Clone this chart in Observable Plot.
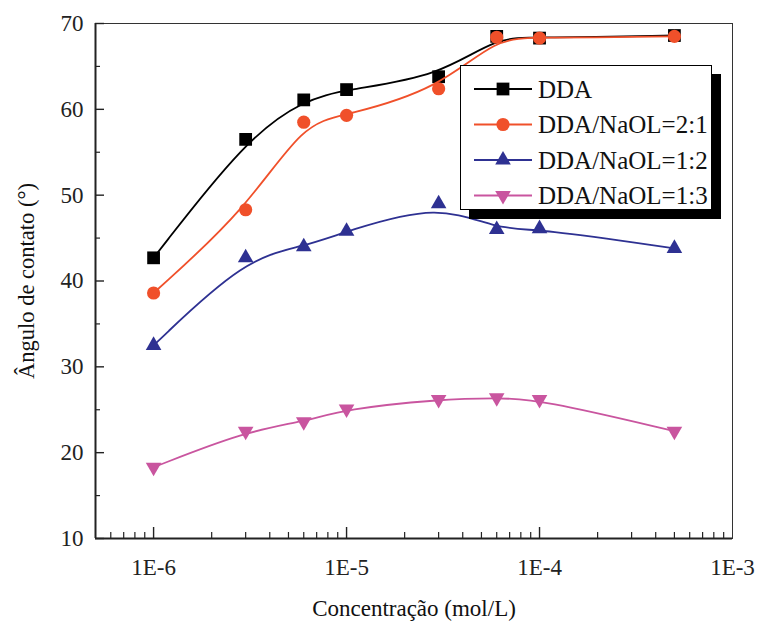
<!DOCTYPE html>
<html>
<head>
<meta charset="utf-8">
<script src="https://cdn.jsdelivr.net/npm/d3@7"></script>
<script src="https://cdn.jsdelivr.net/npm/@observablehq/plot@0.6"></script>
<style>
  body { margin: 0; background: #fff; }
  #wrap { position: relative; width: 757px; height: 628px; font-family: "Liberation Serif", "Times New Roman", serif; }
  #legend { position: absolute; left: 460px; top: 65px; width: 250px; height: 143px; background: #fff; border: 1px solid #000; box-shadow: 9px 9px 0 #000; }
</style>
</head>
<body>
<div id="wrap"></div>
<script>
// ---- data ----
const conc = [1e-6, 3e-6, 6e-6, 1e-5, 3e-5, 6e-5, 1e-4, 5e-4];
const dda   = [42.7, 56.5, 61.1, 62.3, 63.8, 68.5, 68.3, 68.6];
const dda21 = [38.6, 48.3, 58.5, 59.3, 62.4, 68.4, 68.3, 68.5];
const dda12 = [32.5, 42.7, 44.0, 45.8, 49.0, 46.0, 46.1, 43.8];
const dda13 = [18.3, 22.5, 23.6, 25.1, 26.2, 26.4, 26.2, 22.5];
const seriesNames = ["DDA", "DDA/NaOL=2:1", "DDA/NaOL=1:2", "DDA/NaOL=1:3"];
const seriesColors = ["#000000", "#f0502a", "#2e3192", "#c9559f"];
const seriesSymbols = ["square", "circle", "triangle", "triangle"];
const seriesRotate = [0, 0, 0, 180];
const seriesR = [7.2, 6.6, 5.8, 5.8];
const xMajor = [1e-6, 1e-5, 1e-4, 1e-3];
const xTickLabels = ["1E-6", "1E-5", "1E-4", "1E-3"];
const xMinor = [6e-7,7e-7,8e-7,9e-7, 2e-6,3e-6,4e-6,5e-6,6e-6,7e-6,8e-6,9e-6,
                2e-5,3e-5,4e-5,5e-5,6e-5,7e-5,8e-5,9e-5, 2e-4,3e-4,4e-4,5e-4,6e-4,7e-4,8e-4,9e-4];
const yMajor = [10, 20, 30, 40, 50, 60, 70];
const yMinor = [15, 25, 35, 45, 55, 65];
const xDomain = [5e-7, 1e-3];
const yDomain = [10, 70];
const xTitle = "Concentração (mol/L)";
const yTitle = "Ângulo de contato (°)";

const allValues = [dda, dda21, dda12, dda13];
const rows = [];
allValues.forEach((vals, s) => vals.forEach((v, i) => rows.push({series: s, x: conc[i], y: v})));

const W = 757, H = 628, mL = 95, mR = 25, mT = 23, mB = 90;
const fH = H - mT - mB, fW = W - mL - mR;
const labelMap = new Map(xMajor.map((v, i) => [v, xTickLabels[i]]));
const serif = "'Liberation Serif', 'Times New Roman', serif";

const marks = [];
// frame
marks.push(Plot.frame({stroke: "#333", strokeWidth: 1}));
// ticks (inward)
marks.push(Plot.tickX(xMajor.slice(0, 3), {x: d => d, insetTop: fH - 11, stroke: "#222", strokeWidth: 1.4}));
marks.push(Plot.tickX(xMinor, {x: d => d, insetTop: fH - 6, stroke: "#222", strokeWidth: 1.2}));
marks.push(Plot.tickY(yMajor, {y: d => d, insetRight: fW - 9, stroke: "#222", strokeWidth: 1.4}));
marks.push(Plot.tickY(yMinor, {y: d => d, insetRight: fW - 5, stroke: "#222", strokeWidth: 1.2}));
// tick labels
marks.push(Plot.axisX({ticks: xMajor, tickSize: 0, tickPadding: 20, tickFormat: d => labelMap.get(d),
  fontSize: 23, label: null}));
marks.push(Plot.axisY({ticks: yMajor, tickSize: 0, tickPadding: 12, tickFormat: d => String(d),
  fontSize: 23, label: null}));
// axis titles
marks.push(Plot.text([xTitle], {text: d => d, frameAnchor: "bottom", dy: 70, lineAnchor: "middle",
  textAnchor: "middle", fontSize: 23, fill: "#111"}));
marks.push(Plot.text([yTitle], {text: d => d, frameAnchor: "left", dx: -69, lineAnchor: "middle",
  textAnchor: "middle", rotate: -90, fontSize: 22.5, fill: "#111"}));
// series
allValues.forEach((vals, s) => {
  const data = rows.filter(r => r.series === s);
  marks.push(Plot.line(data, {x: "x", y: "y", curve: "basis", stroke: seriesColors[s], strokeWidth: 1.8}));
  marks.push(Plot.dot(data, {x: "x", y: "y", symbol: seriesSymbols[s], r: seriesR[s], rotate: seriesRotate[s],
    fill: seriesColors[s], stroke: "none"}));
});
// axis lines
marks.push(Plot.ruleX([xDomain[0]], {stroke: "#222", strokeWidth: 2}));
marks.push(Plot.ruleY([yDomain[0]], {stroke: "#222", strokeWidth: 2}));

const chart = Plot.plot({
  width: W, height: H,
  marginLeft: mL, marginRight: mR, marginTop: mT, marginBottom: mB,
  style: {fontFamily: serif, fontSize: "22px", color: "#222", background: "#fff"},
  x: {type: "log", domain: xDomain, axis: null},
  y: {domain: yDomain, axis: null},
  marks
});
const wrap = document.getElementById("wrap");
wrap.appendChild(chart);

// legend
const legend = document.createElement("div");
legend.id = "legend";
const ns = "http://www.w3.org/2000/svg";
const lsvg = document.createElementNS(ns, "svg");
lsvg.setAttribute("width", 250); lsvg.setAttribute("height", 143);
lsvg.style.position = "absolute"; lsvg.style.left = "0"; lsvg.style.top = "0";
const symMap = {square: d3.symbolSquare, circle: d3.symbolCircle, triangle: d3.symbolTriangle};
seriesNames.forEach((name, i) => {
  const cy = 23 + i * 35.5;
  const g = document.createElementNS(ns, "g");
  const line = document.createElementNS(ns, "line");
  line.setAttribute("x1", 13); line.setAttribute("x2", 71);
  line.setAttribute("y1", cy); line.setAttribute("y2", cy);
  line.setAttribute("stroke", seriesColors[i]); line.setAttribute("stroke-width", 2);
  g.appendChild(line);
  const p = document.createElementNS(ns, "path");
  p.setAttribute("d", d3.symbol(symMap[seriesSymbols[i]], Math.PI * seriesR[i] * seriesR[i])());
  p.setAttribute("transform", `translate(42,${cy}) rotate(${seriesRotate[i]})`);
  p.setAttribute("fill", seriesColors[i]);
  g.appendChild(p);
  const t = document.createElementNS(ns, "text");
  t.setAttribute("x", 77); t.setAttribute("y", cy + 8.5);
  t.setAttribute("font-size", 25);
  t.setAttribute("font-family", serif);
  t.setAttribute("fill", "#111");
  t.textContent = name;
  g.appendChild(t);
  lsvg.appendChild(g);
});
legend.appendChild(lsvg);
wrap.appendChild(legend);
</script>
</body>
</html>
